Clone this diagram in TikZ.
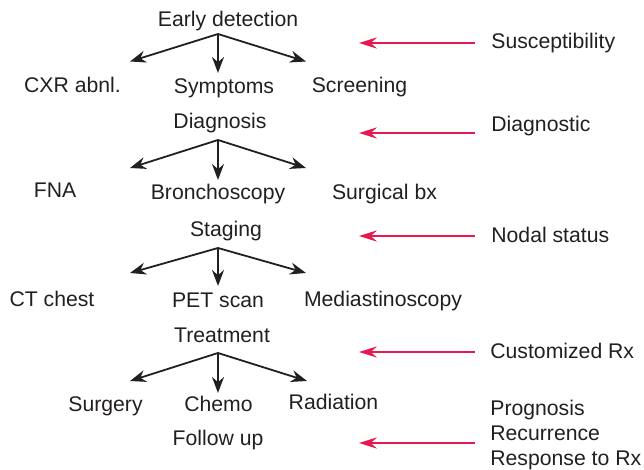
\documentclass[tikz,border=0pt]{standalone}
\usepackage{fontspec}
\setmainfont{Liberation Sans}
\usetikzlibrary{arrows.meta}
\definecolor{inkgray}{RGB}{35,31,32}
\definecolor{hotred}{RGB}{232,24,80}
\begin{document}
\begin{tikzpicture}[x=0.5pt,y=-0.5pt,
  lbl/.style={inner sep=0pt,anchor=base,text=inkgray,font=\fontsize{10.6}{12.7}\selectfont},
  side/.style={lbl,anchor=base west},
  branch/.style={draw=inkgray,line width=0.9pt,
    -{Stealth[length=8pt,width=6pt,inset=2.6pt]}},
  link/.style={draw=hotred,line width=1.2pt,
    -{Stealth[length=9pt,width=5.6pt,inset=3.2pt]}}]
\useasboundingbox (0,0) rectangle (644,470);

% ---- stage titles and options ----
\node[lbl] (early) at (228,27) {Early detection};
\node[lbl] (cxr)   at (72.5,93) {CXR abnl.};
\node[lbl] (symp)  at (224,94) {Symptoms};
\node[lbl] (scr)   at (359.5,93) {Screening};

\node[lbl] (diag)  at (220,129) {Diagnosis};
\node[lbl] (fna)   at (55,198) {FNA};
\node[lbl] (bron)  at (218,200) {Bronchoscopy};
\node[lbl] (surgbx) at (384.5,200) {Surgical bx};

\node[lbl] (stag)  at (226,237) {Staging};
\node[lbl] (ct)    at (52,307) {CT chest};
\node[lbl] (pet)   at (218,308) {PET scan};
\node[lbl] (med)   at (383,307) {Mediastinoscopy};

\node[lbl] (treat) at (222,343) {Treatment};
\node[lbl] (surg)  at (105.5,412) {Surgery};
\node[lbl] (chemo) at (218.5,412) {Chemo};
\node[lbl] (rad)   at (333.5,410) {Radiation};

\node[lbl] (follow) at (218,446) {Follow up};

% ---- right-hand labels ----
\node[side] (susc)  at (491,49) {Susceptibility};
\node[side] (dgn)   at (491,132) {Diagnostic};
\node[side] (nodal) at (491,243) {Nodal status};
\node[side] (cust)  at (490,359) {Customized Rx};
\node[side] (prog)  at (490,416) {Prognosis};
\node[side] (recur) at (490,441) {Recurrence};
\node[side] (resp)  at (490,466) {Response to Rx};

% ---- branch points and arrow ends ----
\coordinate (h1) at (218,34);  \coordinate (l1) at (130,61.5);
\coordinate (d1) at (218,73);  \coordinate (r1) at (306,61.5);
\coordinate (h2) at (218,140); \coordinate (l2) at (130,168);
\coordinate (d2) at (218,180); \coordinate (r2) at (306,168);
\coordinate (h3) at (218,248); \coordinate (l3) at (130,273);
\coordinate (d3) at (218,286); \coordinate (r3) at (306,273);
\coordinate (h4) at (218,353); \coordinate (l4) at (130,381);
\coordinate (d4) at (218,393); \coordinate (r4) at (307,381);

\foreach \i in {1,2,3,4}{
  \draw[branch] (h\i) -- (l\i);
  \draw[branch] (h\i) -- (d\i);
  \draw[branch] (h\i) -- (r\i);
}

% ---- red pointers from the right-hand labels ----
\foreach \n/\y in {a/43,b/133,c/236,d/352,e/443}{
  \coordinate (s\n) at (475,\y);
  \coordinate (t\n) at (359,\y);
  \draw[link] (s\n) -- (t\n);
}
\end{tikzpicture}
\end{document}
